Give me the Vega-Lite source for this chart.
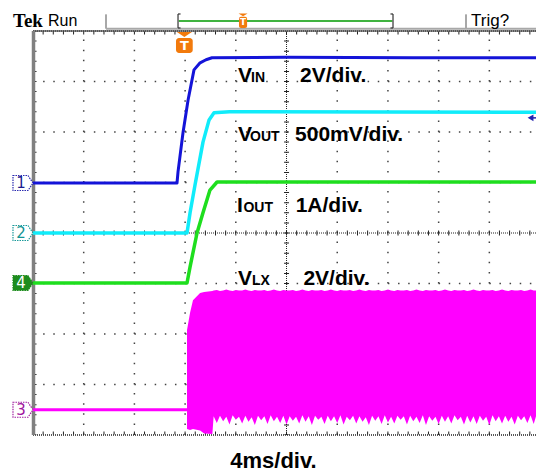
{
  "$schema": "https://vega.github.io/schema/vega-lite/v6.json",
  "width": 503,
  "height": 404,
  "autosize": {"type": "none"},
  "padding": {"left": 33, "top": 31, "right": 0, "bottom": 39},
  "background": "white",
  "config": {
    "view": {"stroke": null},
    "axis": {"disable": true},
    "legend": {"disable": true}
  },
  "data": {"values": [{}]},
  "datasets": {
    "vgrid": [{"t": 4}, {"t": 8}, {"t": 12}, {"t": 16}, {"t": 24}, {"t": 28}, {"t": 32}, {"t": 36}],
    "hgrid": [{"d": 1}, {"d": 2}, {"d": 3}, {"d": 5}, {"d": 6}, {"d": 7}],
    "seps": [{"t": 5.76}, {"t": 34.16}],
    "brackets": [
      {"t": 11.44, "t2": 11.44, "d": 8.06, "d2": 8.337},
      {"t": 11.44, "t2": 11.64, "d": 8.06, "d2": 8.06},
      {"t": 11.44, "t2": 11.64, "d": 8.337, "d2": 8.337},
      {"t": 28.4, "t2": 28.4, "d": 8.06, "d2": 8.337},
      {"t": 28.2, "t2": 28.4, "d": 8.06, "d2": 8.06},
      {"t": 28.2, "t2": 28.4, "d": 8.337, "d2": 8.337}
    ],
    "ch1": [
      {"t": 0, "v": 4.99}, {"t": 11.36, "v": 4.99}, {"t": 11.44, "v": 5.21}, {"t": 11.83, "v": 5.98},
      {"t": 12.23, "v": 6.63}, {"t": 12.7, "v": 7.23}, {"t": 13.18, "v": 7.37}, {"t": 13.65, "v": 7.43},
      {"t": 14.12, "v": 7.47}, {"t": 20, "v": 7.48}, {"t": 30, "v": 7.47}, {"t": 39.68, "v": 7.47}
    ],
    "ch2": [
      {"t": 0, "v": 4.0}, {"t": 12.15, "v": 4.0}, {"t": 12.39, "v": 4.4}, {"t": 12.78, "v": 4.95},
      {"t": 13.41, "v": 5.8}, {"t": 13.89, "v": 6.24}, {"t": 14.28, "v": 6.38}, {"t": 15.5, "v": 6.4},
      {"t": 39.68, "v": 6.39}
    ],
    "ch4": [
      {"t": 0, "v": 3.01}, {"t": 12.15, "v": 3.01}, {"t": 12.39, "v": 3.33}, {"t": 12.94, "v": 4.0},
      {"t": 13.41, "v": 4.4}, {"t": 13.96, "v": 4.85}, {"t": 14.52, "v": 5.01}, {"t": 39.68, "v": 5.01}
    ],
    "ch3": [{"t": 0, "v": 0.5}, {"t": 12.15, "v": 0.5}],
    "ch3sw": [
      {"t": 12.15, "hi": 2.08, "lo": 0.12}, {"t": 12.39, "hi": 2.42, "lo": 0.1}, {"t": 12.62, "hi": 2.67, "lo": 0.12},
      {"t": 13.18, "hi": 2.81, "lo": 0.09}, {"t": 13.5, "hi": 2.83, "lo": 0.03}, {"t": 14.15, "hi": 2.85, "lo": 0.02},
      {"t": 14.25, "hi": 2.86, "lo": 0.37}, {"t": 14.5, "hi": 2.87, "lo": 0.24}, {"t": 14.75, "hi": 2.85, "lo": 0.38},
      {"t": 15.0, "hi": 2.86, "lo": 0.27}, {"t": 15.25, "hi": 2.88, "lo": 0.36}, {"t": 15.5, "hi": 2.86, "lo": 0.21},
      {"t": 15.75, "hi": 2.85, "lo": 0.39}, {"t": 16.0, "hi": 2.87, "lo": 0.3}, {"t": 16.25, "hi": 2.86, "lo": 0.36},
      {"t": 16.5, "hi": 2.86, "lo": 0.23}, {"t": 16.75, "hi": 2.88, "lo": 0.38}, {"t": 17.0, "hi": 2.86, "lo": 0.26},
      {"t": 17.25, "hi": 2.85, "lo": 0.35}, {"t": 17.5, "hi": 2.87, "lo": 0.2}, {"t": 17.75, "hi": 2.86, "lo": 0.38},
      {"t": 18.0, "hi": 2.86, "lo": 0.29}, {"t": 18.25, "hi": 2.87, "lo": 0.37}, {"t": 18.5, "hi": 2.85, "lo": 0.22},
      {"t": 18.75, "hi": 2.86, "lo": 0.39}, {"t": 19.0, "hi": 2.88, "lo": 0.27}, {"t": 19.25, "hi": 2.86, "lo": 0.36},
      {"t": 19.5, "hi": 2.85, "lo": 0.24}, {"t": 19.75, "hi": 2.87, "lo": 0.38}, {"t": 20.0, "hi": 2.86, "lo": 0.21},
      {"t": 20.25, "hi": 2.86, "lo": 0.37}, {"t": 20.5, "hi": 2.87, "lo": 0.28}, {"t": 20.75, "hi": 2.85, "lo": 0.36},
      {"t": 21.0, "hi": 2.86, "lo": 0.23}, {"t": 21.25, "hi": 2.88, "lo": 0.39}, {"t": 21.5, "hi": 2.86, "lo": 0.26},
      {"t": 21.75, "hi": 2.85, "lo": 0.37}, {"t": 22.0, "hi": 2.87, "lo": 0.2}, {"t": 22.25, "hi": 2.86, "lo": 0.38},
      {"t": 22.5, "hi": 2.86, "lo": 0.3}, {"t": 22.75, "hi": 2.87, "lo": 0.36}, {"t": 23.0, "hi": 2.85, "lo": 0.22},
      {"t": 23.25, "hi": 2.86, "lo": 0.38}, {"t": 23.5, "hi": 2.88, "lo": 0.27}, {"t": 23.75, "hi": 2.86, "lo": 0.37},
      {"t": 24.0, "hi": 2.85, "lo": 0.24}, {"t": 24.25, "hi": 2.87, "lo": 0.39}, {"t": 24.5, "hi": 2.86, "lo": 0.21},
      {"t": 24.75, "hi": 2.86, "lo": 0.36}, {"t": 25.0, "hi": 2.87, "lo": 0.29}, {"t": 25.25, "hi": 2.85, "lo": 0.38},
      {"t": 25.5, "hi": 2.86, "lo": 0.23}, {"t": 25.75, "hi": 2.88, "lo": 0.37}, {"t": 26.0, "hi": 2.86, "lo": 0.26},
      {"t": 26.25, "hi": 2.85, "lo": 0.35}, {"t": 26.5, "hi": 2.87, "lo": 0.2}, {"t": 26.75, "hi": 2.86, "lo": 0.38},
      {"t": 27.0, "hi": 2.86, "lo": 0.28}, {"t": 27.25, "hi": 2.87, "lo": 0.37}, {"t": 27.5, "hi": 2.85, "lo": 0.22},
      {"t": 27.75, "hi": 2.86, "lo": 0.39}, {"t": 28.0, "hi": 2.88, "lo": 0.25}, {"t": 28.25, "hi": 2.86, "lo": 0.36},
      {"t": 28.5, "hi": 2.85, "lo": 0.23}, {"t": 28.75, "hi": 2.87, "lo": 0.38}, {"t": 29.0, "hi": 2.86, "lo": 0.3},
      {"t": 29.25, "hi": 2.86, "lo": 0.37}, {"t": 29.5, "hi": 2.87, "lo": 0.21}, {"t": 29.75, "hi": 2.85, "lo": 0.38},
      {"t": 30.0, "hi": 2.86, "lo": 0.27}, {"t": 30.25, "hi": 2.88, "lo": 0.36}, {"t": 30.5, "hi": 2.86, "lo": 0.24},
      {"t": 30.75, "hi": 2.85, "lo": 0.39}, {"t": 31.0, "hi": 2.87, "lo": 0.2}, {"t": 31.25, "hi": 2.86, "lo": 0.37},
      {"t": 31.5, "hi": 2.86, "lo": 0.28}, {"t": 31.75, "hi": 2.87, "lo": 0.36}, {"t": 32.0, "hi": 2.85, "lo": 0.22},
      {"t": 32.25, "hi": 2.86, "lo": 0.38}, {"t": 32.5, "hi": 2.88, "lo": 0.26}, {"t": 32.75, "hi": 2.86, "lo": 0.37},
      {"t": 33.0, "hi": 2.85, "lo": 0.23}, {"t": 33.25, "hi": 2.87, "lo": 0.39}, {"t": 33.5, "hi": 2.86, "lo": 0.29},
      {"t": 33.75, "hi": 2.86, "lo": 0.36}, {"t": 34.0, "hi": 2.87, "lo": 0.21}, {"t": 34.25, "hi": 2.85, "lo": 0.38},
      {"t": 34.5, "hi": 2.86, "lo": 0.25}, {"t": 34.75, "hi": 2.88, "lo": 0.37}, {"t": 35.0, "hi": 2.86, "lo": 0.22},
      {"t": 35.25, "hi": 2.85, "lo": 0.38}, {"t": 35.5, "hi": 2.87, "lo": 0.28}, {"t": 35.75, "hi": 2.86, "lo": 0.36},
      {"t": 36.0, "hi": 2.86, "lo": 0.2}, {"t": 36.25, "hi": 2.87, "lo": 0.39}, {"t": 36.5, "hi": 2.85, "lo": 0.27},
      {"t": 36.75, "hi": 2.86, "lo": 0.37}, {"t": 37.0, "hi": 2.88, "lo": 0.23}, {"t": 37.25, "hi": 2.86, "lo": 0.38},
      {"t": 37.5, "hi": 2.85, "lo": 0.26}, {"t": 37.75, "hi": 2.87, "lo": 0.36}, {"t": 38.0, "hi": 2.86, "lo": 0.21},
      {"t": 38.25, "hi": 2.86, "lo": 0.38}, {"t": 38.5, "hi": 2.87, "lo": 0.29}, {"t": 38.75, "hi": 2.85, "lo": 0.37},
      {"t": 39.0, "hi": 2.86, "lo": 0.24}, {"t": 39.25, "hi": 2.88, "lo": 0.39}, {"t": 39.5, "hi": 2.86, "lo": 0.22},
      {"t": 39.68, "hi": 2.86, "lo": 0.37}
    ],
    "markers": [
      {"ch": "1", "t": -0.79, "d": 4.99},
      {"ch": "2", "t": -0.79, "d": 4.0},
      {"ch": "4", "t": -0.79, "d": 3.01},
      {"ch": "3", "t": -0.79, "d": 0.5}
    ],
    "labels": [
      {"txt": "V", "t": 16.17, "d": 6.99},
      {"txt": "2V/div.", "t": 21.07, "d": 6.99},
      {"txt": "V", "t": 16.17, "d": 5.82},
      {"txt": "500mV/div.", "t": 20.67, "d": 5.82},
      {"txt": "I", "t": 16.09, "d": 4.42},
      {"txt": "1A/div.", "t": 20.72, "d": 4.42},
      {"txt": "V", "t": 16.17, "d": 2.97},
      {"txt": "2V/div.", "t": 21.33, "d": 2.97}
    ],
    "subs": [
      {"txt": "IN", "t": 17.2, "d": 6.99},
      {"txt": "OUT", "t": 17.12, "d": 5.82},
      {"txt": "OUT", "t": 16.6, "d": 4.42},
      {"txt": "LX", "t": 17.28, "d": 2.97}
    ]
  },
  "layer": [
    {
      "data": {"name": "vgrid"},
      "mark": {"type": "rule", "color": "#444444", "strokeWidth": 1.5, "strokeDash": [1.5, 8.6]},
      "encoding": {
        "x": {"field": "t", "type": "quantitative", "scale": {"domain": [0, 39.68], "nice": false, "zero": false}},
        "y": {"datum": 0, "type": "quantitative", "scale": {"domain": [0, 8], "nice": false, "zero": false}},
        "y2": {"datum": 8}
      }
    },
    {
      "data": {"name": "hgrid"},
      "mark": {"type": "rule", "color": "#444444", "strokeWidth": 1.5, "strokeDash": [1.5, 8.64]},
      "encoding": {
        "y": {"field": "d", "type": "quantitative"},
        "x": {"datum": 0, "type": "quantitative"},
        "x2": {"datum": 39.68}
      }
    },
    {
      "mark": {"type": "rule", "color": "#222222", "strokeWidth": 1, "strokeDash": [1, 1]},
      "encoding": {"y": {"datum": 4, "type": "quantitative"}, "x": {"datum": 0, "type": "quantitative"}, "x2": {"datum": 39.68}}
    },
    {
      "mark": {"type": "rule", "color": "#222222", "strokeWidth": 5, "strokeDash": [1, 9.14], "strokeDashOffset": 0.5},
      "encoding": {"y": {"datum": 4, "type": "quantitative"}, "x": {"datum": 0, "type": "quantitative"}, "x2": {"datum": 39.68}}
    },
    {
      "mark": {"type": "rule", "color": "#222222", "strokeWidth": 1, "strokeDash": [1, 1]},
      "encoding": {"x": {"datum": 20, "type": "quantitative"}, "y": {"datum": 0, "type": "quantitative"}, "y2": {"datum": 8}}
    },
    {
      "mark": {"type": "rule", "color": "#222222", "strokeWidth": 5, "strokeDash": [1, 9.1], "strokeDashOffset": 0.5},
      "encoding": {"x": {"datum": 20, "type": "quantitative"}, "y": {"datum": 0, "type": "quantitative"}, "y2": {"datum": 8}}
    },
    {
      "mark": {"type": "rule", "color": "#8c8c8c", "strokeWidth": 2},
      "encoding": {"y": {"datum": 8, "type": "quantitative"}, "x": {"datum": 0, "type": "quantitative"}, "x2": {"datum": 39.68}}
    },
    {
      "mark": {"type": "rule", "color": "#222222", "strokeWidth": 1, "strokeDash": [1, 1]},
      "encoding": {"y": {"datum": 8, "type": "quantitative"}, "x": {"datum": 0, "type": "quantitative"}, "x2": {"datum": 39.68}}
    },
    {
      "mark": {"type": "rule", "color": "#222222", "strokeWidth": 3, "strokeDash": [1, 9.14], "strokeDashOffset": 0.5},
      "encoding": {"y": {"datum": 7.96, "type": "quantitative"}, "x": {"datum": 0, "type": "quantitative"}, "x2": {"datum": 39.68}}
    },
    {
      "mark": {"type": "rule", "color": "#222222", "strokeWidth": 1.5, "strokeDash": [1, 1]},
      "encoding": {"y": {"datum": 0, "type": "quantitative"}, "x": {"datum": 0, "type": "quantitative"}, "x2": {"datum": 39.68}}
    },
    {
      "mark": {"type": "rule", "color": "#222222", "strokeWidth": 3, "strokeDash": [1, 9.14], "strokeDashOffset": 0.5},
      "encoding": {"y": {"datum": 0.04, "type": "quantitative"}, "x": {"datum": 0, "type": "quantitative"}, "x2": {"datum": 39.68}}
    },
    {
      "mark": {"type": "rule", "color": "#333333", "strokeWidth": 2, "strokeDash": [1, 9.1], "strokeDashOffset": 0.5},
      "encoding": {"x": {"datum": 0.2, "type": "quantitative"}, "y": {"datum": 0, "type": "quantitative"}, "y2": {"datum": 8}}
    },
    {
      "mark": {"type": "rule", "color": "#808080", "strokeWidth": 3.5},
      "encoding": {"x": {"datum": 0.04, "type": "quantitative"}, "y": {"datum": 0, "type": "quantitative"}, "y2": {"datum": 8}}
    },
    {
      "mark": {"type": "rule", "color": "#a8a8a8", "strokeWidth": 2},
      "encoding": {"y": {"datum": 8.045, "type": "quantitative"}, "x": {"datum": 5.76, "type": "quantitative"}, "x2": {"datum": 39.68}}
    },
    {
      "data": {"name": "seps"},
      "mark": {"type": "rule", "color": "#a8a8a8", "strokeWidth": 2},
      "encoding": {"x": {"field": "t", "type": "quantitative"}, "y": {"datum": 8.045, "type": "quantitative"}, "y2": {"datum": 8.33}}
    },
    {
      "mark": {"type": "rule", "color": "#009a00", "strokeWidth": 1.5},
      "encoding": {"y": {"datum": 8.198, "type": "quantitative"}, "x": {"datum": 11.5, "type": "quantitative"}, "x2": {"datum": 28.35}}
    },
    {
      "data": {"name": "brackets"},
      "mark": {"type": "rule", "color": "#333333", "strokeWidth": 1.2},
      "encoding": {
        "x": {"field": "t", "type": "quantitative"}, "x2": {"field": "t2"},
        "y": {"field": "d", "type": "quantitative"}, "y2": {"field": "d2"}
      }
    },
    {
      "data": {"name": "ch3sw"},
      "mark": {"type": "area", "color": "#ff00ff", "opacity": 1},
      "encoding": {
        "x": {"field": "t", "type": "quantitative"},
        "y": {"field": "hi", "type": "quantitative"},
        "y2": {"field": "lo"}
      }
    },
    {
      "data": {"name": "ch3"},
      "mark": {"type": "line", "color": "#ff00ff", "strokeWidth": 3},
      "encoding": {"x": {"field": "t", "type": "quantitative"}, "y": {"field": "v", "type": "quantitative"}}
    },
    {
      "data": {"name": "ch4"},
      "mark": {"type": "line", "color": "#1ede1e", "strokeWidth": 3.5, "strokeJoin": "round"},
      "encoding": {"x": {"field": "t", "type": "quantitative"}, "y": {"field": "v", "type": "quantitative"}}
    },
    {
      "data": {"name": "ch2"},
      "mark": {"type": "line", "color": "#10ecfa", "strokeWidth": 3.5, "strokeJoin": "round"},
      "encoding": {"x": {"field": "t", "type": "quantitative"}, "y": {"field": "v", "type": "quantitative"}}
    },
    {
      "data": {"name": "ch1"},
      "mark": {"type": "line", "color": "#1414d8", "strokeWidth": 3, "strokeJoin": "round"},
      "encoding": {"x": {"field": "t", "type": "quantitative"}, "y": {"field": "v", "type": "quantitative"}}
    },
    {
      "mark": {"type": "point", "shape": "triangle-left", "size": 45, "filled": true, "color": "#2424b0", "opacity": 1},
      "encoding": {"x": {"datum": 39.25, "type": "quantitative"}, "y": {"datum": 6.28, "type": "quantitative"}}
    },
    {
      "mark": {"type": "rule", "color": "#2424b0", "strokeWidth": 1.5},
      "encoding": {"y": {"datum": 6.28, "type": "quantitative"}, "x": {"datum": 39.3, "type": "quantitative"}, "x2": {"datum": 39.68}}
    },
    {
      "mark": {"type": "point", "shape": "M-1,-0.33L1,-0.33L0,0.33Z", "size": 225, "filled": true, "color": "#f27a0c", "opacity": 1},
      "encoding": {"x": {"datum": 11.94, "type": "quantitative"}, "y": {"datum": 7.93, "type": "quantitative"}}
    },
    {
      "mark": {"type": "rect", "color": "#f27a0c", "cornerRadius": 3},
      "encoding": {
        "x": {"datum": 11.28, "type": "quantitative"}, "x2": {"datum": 12.6},
        "y": {"datum": 7.564, "type": "quantitative"}, "y2": {"datum": 7.86}
      }
    },
    {
      "mark": {"type": "text", "text": "T", "font": "DejaVu Sans", "fontWeight": "bold", "fontSize": 13, "color": "white", "align": "center", "baseline": "middle"},
      "encoding": {"x": {"datum": 11.94, "type": "quantitative"}, "y": {"datum": 7.71, "type": "quantitative"}}
    },
    {
      "mark": {"type": "point", "shape": "M-1,-0.3L1,-0.3L0,0.3Z", "size": 81, "filled": true, "color": "#f27a0c", "opacity": 1},
      "encoding": {"x": {"datum": 16.57, "type": "quantitative"}, "y": {"datum": 8.32, "type": "quantitative"}}
    },
    {
      "mark": {"type": "rect", "color": "#f27a0c", "cornerRadius": 2},
      "encoding": {
        "x": {"datum": 16.25, "type": "quantitative"}, "x2": {"datum": 16.89},
        "y": {"datum": 8.059, "type": "quantitative"}, "y2": {"datum": 8.28}
      }
    },
    {
      "mark": {"type": "text", "text": "T", "font": "DejaVu Sans", "fontWeight": "bold", "fontSize": 9, "color": "white", "align": "center", "baseline": "middle"},
      "encoding": {"x": {"datum": 16.57, "type": "quantitative"}, "y": {"datum": 8.17, "type": "quantitative"}}
    },
    {
      "data": {"name": "markers"},
      "mark": {"type": "point", "shape": "M-1,-0.75L0.5,-0.75L1,0L0.5,0.75L-1,0.75Z", "size": 400, "filled": false, "strokeWidth": 1.2, "strokeDash": [1.5, 1], "opacity": 1},
      "encoding": {
        "x": {"field": "t", "type": "quantitative"},
        "y": {"field": "d", "type": "quantitative"},
        "fill": {"field": "ch", "type": "nominal", "scale": {"domain": ["1", "2", "3", "4"], "range": ["#ffffff", "#ffffff", "#ffffff", "#1e8c1e"]}},
        "stroke": {"field": "ch", "type": "nominal", "scale": {"domain": ["1", "2", "3", "4"], "range": ["#2a2ab0", "#1a9a9a", "#a020a0", "#1e8c1e"]}}
      }
    },
    {
      "data": {"name": "markers"},
      "transform": [{"calculate": "datum.t - 0.16", "as": "tx"}],
      "mark": {"type": "text", "font": "DejaVu Sans", "fontSize": 15, "align": "center", "baseline": "middle"},
      "encoding": {
        "x": {"field": "tx", "type": "quantitative"},
        "y": {"field": "d", "type": "quantitative"},
        "text": {"field": "ch"},
        "color": {"field": "ch", "type": "nominal", "scale": {"domain": ["1", "2", "3", "4"], "range": ["#1c1c90", "#149494", "#a014a0", "#ffffff"]}}
      }
    },
    {
      "data": {"name": "labels"},
      "mark": {"type": "text", "font": "Liberation Sans", "fontWeight": "bold", "fontSize": 21, "color": "black", "align": "left", "baseline": "alphabetic"},
      "encoding": {
        "x": {"field": "t", "type": "quantitative"},
        "y": {"field": "d", "type": "quantitative"},
        "text": {"field": "txt"}
      }
    },
    {
      "data": {"name": "subs"},
      "mark": {"type": "text", "font": "Liberation Sans", "fontWeight": "bold", "fontSize": 14, "color": "black", "align": "left", "baseline": "alphabetic"},
      "encoding": {
        "x": {"field": "t", "type": "quantitative"},
        "y": {"field": "d", "type": "quantitative"},
        "text": {"field": "txt"}
      }
    },
    {
      "mark": {"type": "text", "text": "4ms/div.", "font": "Liberation Sans", "fontWeight": "bold", "fontSize": 22, "color": "black", "align": "center", "baseline": "alphabetic"},
      "encoding": {"x": {"datum": 18.97, "type": "quantitative"}, "y": {"datum": -0.65, "type": "quantitative"}}
    },
    {
      "mark": {"type": "text", "text": "Tek", "font": "Liberation Serif", "fontWeight": "bold", "fontSize": 19, "color": "black", "align": "left", "baseline": "alphabetic"},
      "encoding": {"x": {"datum": -1.58, "type": "quantitative"}, "y": {"datum": 8.08, "type": "quantitative"}}
    },
    {
      "mark": {"type": "text", "text": "Run", "font": "Liberation Sans", "fontSize": 16, "color": "black", "align": "left", "baseline": "alphabetic"},
      "encoding": {"x": {"datum": 1.18, "type": "quantitative"}, "y": {"datum": 8.1, "type": "quantitative"}}
    },
    {
      "mark": {"type": "text", "text": "Trig?", "font": "Liberation Sans", "fontSize": 17, "color": "black", "align": "left", "baseline": "alphabetic"},
      "encoding": {"x": {"datum": 34.56, "type": "quantitative"}, "y": {"datum": 8.1, "type": "quantitative"}}
    }
  ]
}
